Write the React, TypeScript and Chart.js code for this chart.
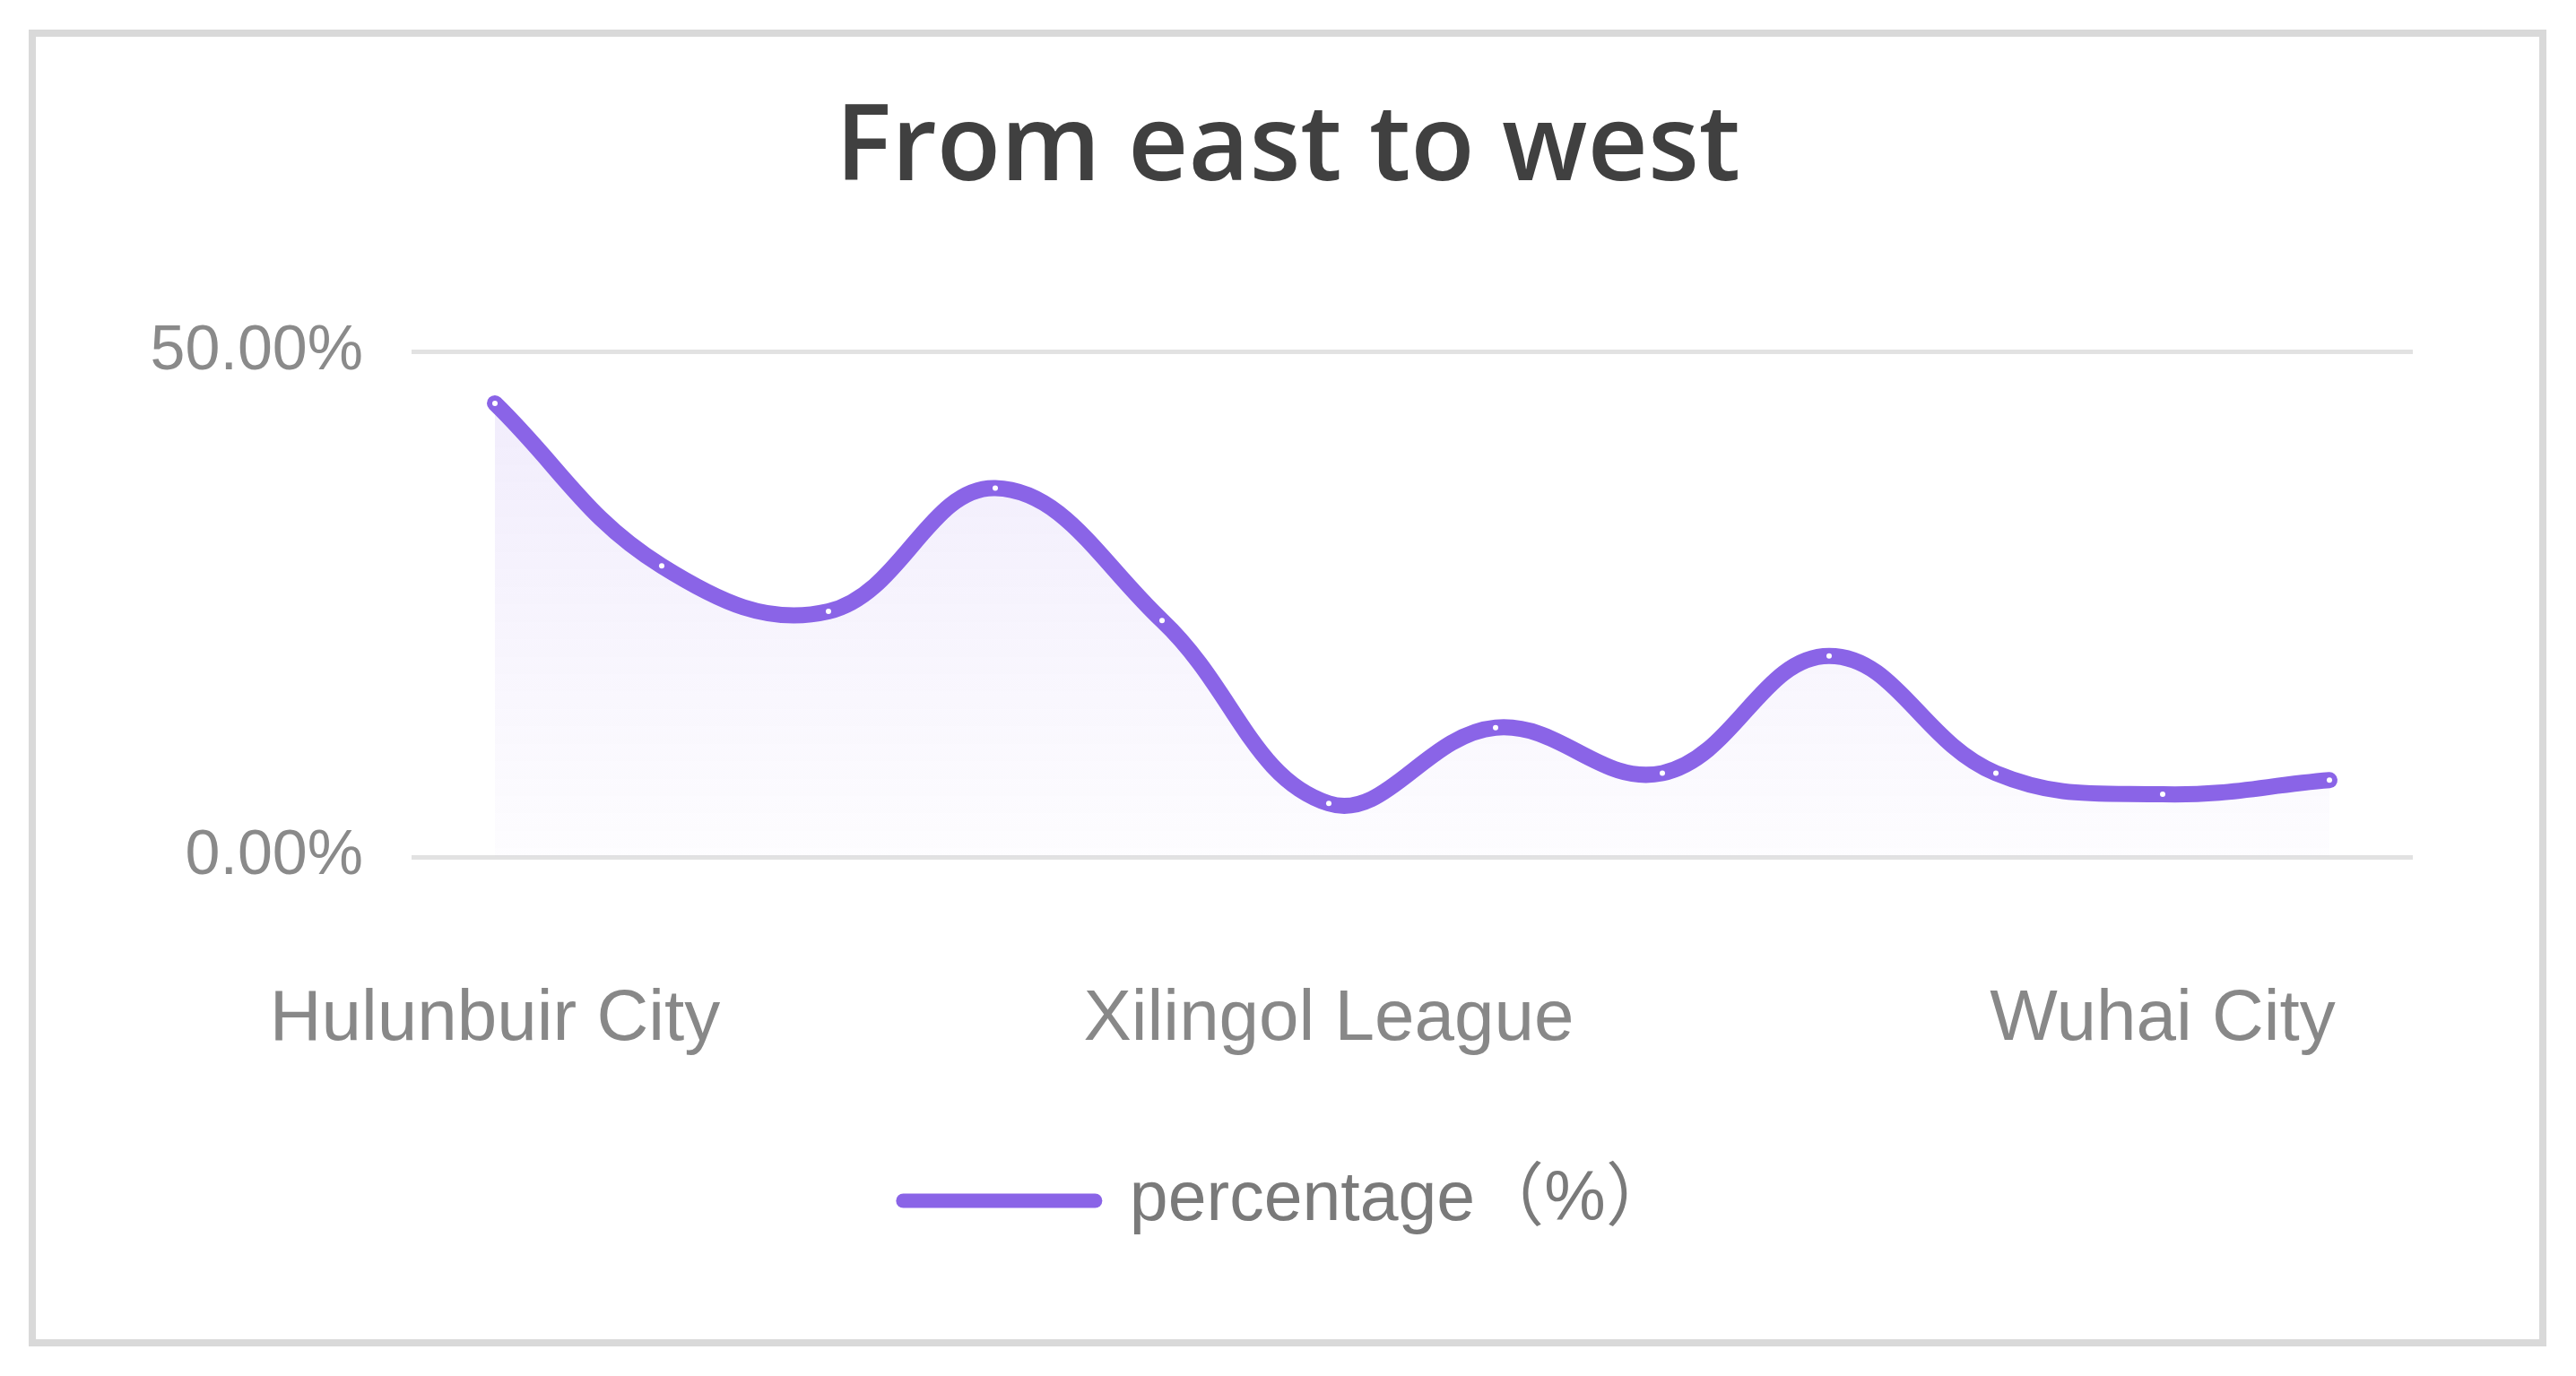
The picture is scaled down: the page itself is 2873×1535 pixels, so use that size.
import React, { useEffect, useRef } from "react";
import { Chart, registerables } from "chart.js";

Chart.register(...registerables);

const chartTitle = "From east to west";
const seriesName = "percentage（%）";
const categories = [
  "Hulunbuir City",
  "Manzhouli City",
  "Hinggan League",
  "Tongliao City",
  "Chifeng City",
  "Xilingol League",
  "Ulanqab City",
  "Hohhot City",
  "Baotou City",
  "Ordos City",
  "Wuhai City",
  "Alxa League",
];
const percentages = [44.9, 28.8, 24.3, 36.5, 23.4, 5.3, 12.8, 8.3, 19.9, 8.3, 6.2, 7.6];
const yTickValues = [0, 50];
const shownLabelIndices = [0, 5, 10];

const LINE_COLOR = "#8a64e7";
const SANS = "'Liberation Sans', Arial, 'Noto Sans CJK SC', sans-serif";

const boxShift = {
  id: "boxShift",
  afterLayout(chart: any) {
    const lg = chart.legend;
    if (lg) {
      lg.left += 42;
      lg.right += 42;
    }
    const tt = chart.titleBlock;
    if (tt) {
      tt.left += 41;
      tt.right += 41;
    }
  },
};

export default function App() {
  const canvasRef = useRef<HTMLCanvasElement | null>(null);

  useEffect(() => {
    const canvas = canvasRef.current;
    if (!canvas) return;
    const chart = new Chart(canvas, {
      type: "line",
      plugins: [boxShift],
      data: {
        labels: categories,
        datasets: [
          {
            label: seriesName,
            data: percentages,
            borderColor: LINE_COLOR,
            borderWidth: 18,
            borderCapStyle: "round",
            borderJoinStyle: "round",
            tension: 0.4,
            fill: "origin",
            backgroundColor: (ctx: any) => {
              const { chart: ch } = ctx;
              const area = ch.chartArea;
              if (!area) return "rgba(137,98,230,0.06)";
              const g = ch.ctx.createLinearGradient(0, area.top, 0, area.bottom);
              g.addColorStop(0, "rgba(137,98,230,0.13)");
              g.addColorStop(1, "rgba(137,98,230,0.015)");
              return g;
            },
            pointRadius: 3,
            pointBackgroundColor: "#ffffff",
            pointBorderWidth: 0,
            pointHoverRadius: 3,
          },
        ],
      },
      options: {
        animation: false,
        responsive: true,
        maintainAspectRatio: false,
        layout: {
          padding: { left: 100, right: 182, top: 0, bottom: 147 },
        },
        plugins: {
          tooltip: { enabled: false },
          title: {
            display: true,
            text: chartTitle,
            color: "#404040",
            font: { family: "'Open Sans', 'Noto Sans', sans-serif", size: 117, weight: "600", lineHeight: 1.2 },
            padding: { top: 97, bottom: 155 },
          },
          legend: {
            display: true,
            position: "bottom",
            labels: {
              usePointStyle: true,
              pointStyle: "line",
              pointStyleWidth: 214,
              padding: 115,
              color: "#7a7a7a",
              font: { family: SANS, size: 77 },
              generateLabels: (ch: any) =>
                ch.data.datasets.map((ds: any, i: number) => ({
                  text: ds.label,
                  fillStyle: LINE_COLOR,
                  strokeStyle: LINE_COLOR,
                  lineWidth: 16,
                  lineCap: "round",
                  pointStyle: "line",
                  hidden: false,
                  datasetIndex: i,
                  fontColor: "#7a7a7a",
                })),
            },
          },
        },
        scales: {
          x: {
            type: "category",
            offset: true,
            grid: { display: false, drawTicks: false },
            border: { display: false },
            afterFit: (s: any) => {
              s.height = 230;
            },
            ticks: {
              autoSkip: false,
              maxRotation: 0,
              minRotation: 0,
              padding: 134,
              color: "#888888",
              font: { family: SANS, size: 80 },
              callback: (_v: any, i: number) => (shownLabelIndices.includes(i) ? categories[i] : ""),
            },
          },
          y: {
            min: 0,
            max: 50,
            grid: { color: "#e2e2e2", lineWidth: 5, drawTicks: false },
            border: { display: false },
            afterBuildTicks: (s: any) => {
              s.ticks = yTickValues.map((v) => ({ value: v }));
            },
            afterFit: (s: any) => {
              s.width = 359;
            },
            ticks: {
              padding: 54,
              color: "#8a8a8a",
              font: { family: SANS, size: 70 },
              callback: (v: any) => Number(v).toFixed(2) + "%",
            },
          },
        },
      },
    });
    return () => chart.destroy();
  }, []);

  return (
    <div style={{ position: "fixed", left: 0, top: 0, width: 2873, height: 1535, background: "#ffffff" }}>
      <div
        style={{
          position: "absolute",
          left: 32,
          top: 33,
          width: 2808,
          height: 1469,
          boxSizing: "border-box",
          border: "8px solid #d9d9d9",
        }}
      />
      <div style={{ position: "absolute", left: 0, top: 0, width: 2873, height: 1535 }}>
        <canvas ref={canvasRef} />
      </div>
    </div>
  );
}
